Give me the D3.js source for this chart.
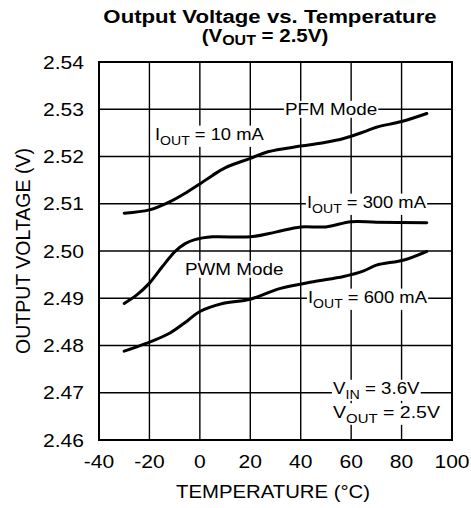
<!DOCTYPE html>
<html><head><meta charset="utf-8">
<script src="https://cdn.jsdelivr.net/npm/d3@7"></script>
<style>body{margin:0;background:#fff}text{font-family:"Liberation Sans",Arial,sans-serif;fill:#000}</style>
</head><body><svg id="c" width="471" height="508"></svg>
<script>
const xTicks=[-40,-20,0,20,40,60,80,100];
const yTicks=[2.46,2.47,2.48,2.49,2.50,2.51,2.52,2.53,2.54];
const temp10=[-30,-20,-12,-5,0,5,10,20,27,40,50,57,65,70,80,90];
const v10=[2.508,2.5087,2.5104,2.5125,2.5142,2.5160,2.5176,2.5196,2.5210,2.5222,2.5230,2.5238,2.5252,2.5262,2.5274,2.5291];
const temp300=[-30,-25,-20,-15,-10,-6,-2,5,20,30,40,50,60,70,90];
const v300=[2.4889,2.4907,2.4932,2.4966,2.4998,2.5015,2.5024,2.5030,2.5030,2.5040,2.5051,2.5051,2.5062,2.5061,2.5060];
const temp600=[-30,-21,-12,-5,0,9,20,32,45,57,65,70,81,90];
const v600=[2.4788,2.4805,2.4826,2.4852,2.4872,2.4889,2.4898,2.4921,2.4935,2.4946,2.4958,2.4970,2.4981,2.4999];

const svg=d3.select("#c");
const L=99,R=452,T=62,B=440;
const x=d3.scaleLinear().domain([-40,100]).range([L,R]);
const y=d3.scaleLinear().domain([2.46,2.54]).range([B,T]);
const g=svg.append("g");
g.selectAll(".vx").data(xTicks).enter().append("line").attr("x1",d=>x(d)).attr("x2",d=>x(d)).attr("y1",T).attr("y2",B).attr("stroke","#000").attr("stroke-width",1.4);
g.selectAll(".hy").data(yTicks).enter().append("line").attr("y1",d=>y(d)).attr("y2",d=>y(d)).attr("x1",L).attr("x2",R).attr("stroke","#000").attr("stroke-width",1.4);
g.append("rect").attr("x",L).attr("y",T).attr("width",R-L).attr("height",B-T).attr("fill","none").attr("stroke","#000").attr("stroke-width",2);

function stext(px,py,anchor,size,sx,parts,bold,bg){
  const grp=svg.append("g").attr("transform",`translate(${px},${py}) scale(${sx},1)`);
  const t=grp.append("text").attr("x",0).attr("y",0).attr("text-anchor",anchor).style("font-size",size+"px");
  if(bold) t.style("font-weight","bold");
  parts.forEach(p=>{
    const s=t.append("tspan").text(p[0]);
    if(p[1]==="sub"){s.attr("dy",5).style("font-size",Math.round(size*0.78)+"px");}
    else if(p[1]==="back"){s.attr("dy",-5);}
  });
  if(bg){
    const bb=t.node().getBBox();
    grp.insert("rect",()=>t.node()).attr("x",bb.x-1).attr("y",bb.y+1).attr("width",bb.width+2).attr("height",bb.height-2).attr("fill","#fff");
  }
  return grp;
}

const fx=d3.format("d"), fy=d3.format(".2f");
xTicks.forEach(d=>stext(x(d),468,"middle",18,1.17,[[fx(d).replace("\u2212","-")]]));
yTicks.forEach(d=>stext(L-15,y(d)+6.5,"end",18,1.17,[[fy(d)]]));

const line=d3.line().x(d=>x(d[0])).y(d=>y(d[1])).curve(d3.curveCatmullRom.alpha(0.5));
[[temp10,v10],[temp300,v300],[temp600,v600]].forEach(([t,v])=>{
  svg.append("path").attr("d",line(t.map((d,i)=>[d,v[i]]))).attr("fill","none").attr("stroke","#000").attr("stroke-width",3).attr("stroke-linecap","round").attr("stroke-linejoin","round");
});

stext(285,115,"start",17,1.11,[["PFM Mode"]],false,true);
stext(155,140,"start",17,1.08,[["I"],["OUT","sub"],[" = 10 mA","back"]],false,true);
stext(307,208,"start",17,1.08,[["I"],["OUT","sub"],[" = 300 mA","back"]],false,true);
stext(185,275,"start",17,1.11,[["PWM Mode"]],false,true);
stext(308,303,"start",17,1.08,[["I"],["OUT","sub"],[" = 600 mA","back"]],false,true);
stext(333,394,"start",17,1.1,[["V"],["IN","sub"],[" = 3.6V","back"]],false,true);
stext(333,418,"start",17,1.15,[["V"],["OUT","sub"],[" = 2.5V","back"]],false,true);

stext(270,23,"middle",18.5,1.2,[["Output Voltage vs. Temperature"]],true);
const t2=svg.append("g").attr("transform","translate(265,42) scale(1.14,1)").append("text").attr("text-anchor","middle").style("font-size","18px").style("font-weight","bold");
t2.append("tspan").text("(V");
t2.append("tspan").text("OUT").attr("dy",3).style("font-size","14px");
t2.append("tspan").text(" = 2.5V)").attr("dy",-3);
stext(273,498,"middle",18,1.13,[["TEMPERATURE (°C)"]]);
svg.append("text").attr("transform","translate(30,251) rotate(-90)").attr("text-anchor","middle").style("font-size","19.5px").text("OUTPUT VOLTAGE (V)");
</script></body></html>
